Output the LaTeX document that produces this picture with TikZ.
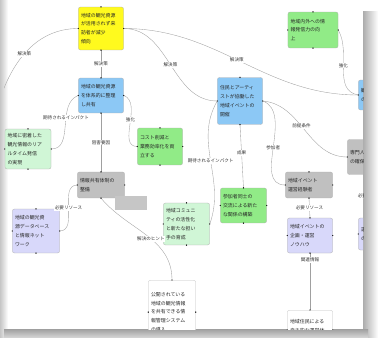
\documentclass[tikz,border=0pt]{standalone}
\usepackage{fontspec}
\newfontfamily\jp{Noto Sans CJK JP}

\definecolor{kiiro}{RGB}{255,250,30}
\definecolor{ao}{RGB}{140,200,245}
\definecolor{midori}{RGB}{145,235,135}
\definecolor{usumidori}{RGB}{208,246,214}
\definecolor{hai}{RGB}{192,192,192}
\definecolor{fuji}{RGB}{216,216,250}
\definecolor{sen}{RGB}{160,160,160}

\tikzset{kado/.style = {draw = gray!65, rounded corners = 3pt, align = left,
                        font = \jp\fontsize{7}{12.5}\selectfont, text = black!85,
                        inner sep = 0.13cm, text width = #1},
         kado/.default = 2cm,
         ran/.style = {font = \jp\fontsize{6.5}{7}\selectfont, fill = white,
                       inner sep = 1pt, text = black!80},
         sen/.style = {draw = sen, line width = 0.5pt}
        }

\newcommand{\yotsuten}[1]{\foreach \a in {north,south,east,west} \fill (#1.\a) circle[radius=1pt];}

\begin{document}
\begin{tikzpicture}[x=0.05cm,y=-0.05cm]
\useasboundingbox (0,0) rectangle (378,338);
\fill[white] (0,0) rectangle (378,338);
% page shadows
\shade[left color = gray!45, right color = white] (0,0) rectangle (8,338);
\shade[left color = gray!65, right color = white] (363,12) rectangle (378,338);
\shade[top color = gray!75, bottom color = gray!30] (4,329) rectangle (368,338);

\begin{scope}
\clip (4,0) rectangle (363,329);
% nodes
\node[kado, fill = kiiro, minimum height = 2.15cm] (yel) at (101,28.5)
  {地域の観光資源\\が活用されず来\\訪者が減少\\傾向};
\node[kado = 2.25cm, fill = midori, minimum height = 1.8cm] (grnTop) at (313,30)
  {地域内外への情\\報発信力の向\\上};
\node[kado, fill = ao, minimum height = 1.75cm] (blu1) at (101,95.5)
  {地域の観光資源\\を体系的に整理\\し共有};
\node[kado, fill = ao, minimum height = 2.35cm] (blu2) at (240,101)
  {住民とアーティ\\ストが協働した\\地域イベントの\\開催};
\node[kado = 1.7cm, fill = ao, minimum height = 1.5cm] (blu3) at (378,95)
  {観光案内\\の拡充};
\node[kado = 2.05cm, fill = usumidori, minimum height = 2cm] (mint1) at (28,149)
  {地域に密着した\\観光情報のリア\\ルタイム発信\\の実現};
\node[kado, fill = midori, minimum height = 1.85cm] (grn2) at (160,146.5)
  {コスト削減と\\業務効率化を両\\立する};
\node[kado = 1.5cm, fill = hai, minimum height = 1.75cm] (grayR) at (365,157)
  {専門人材\\の確保};
\node[kado = 2.1cm, fill = hai, minimum height = 1.3cm] (gray1) at (101,185)
  {情報共有体制の\\整備};
\node[fill = gray!45, minimum width = 1.6cm, minimum height = 0.7cm, inner sep = 0] (kage) at (131,203) {};
\node[kado = 2.05cm, fill = midori, minimum height = 1.75cm] (grn3) at (243.5,205.5)
  {参加者同士の\\交流による新た\\な関係の構築};
\node[kado = 2.05cm, fill = usumidori, minimum height = 2.1cm] (mint2) at (186.5,224)
  {地域コミュニ\\ティの活性化\\と新たな担い\\手の育成};
\node[kado = 2.1cm, fill = hai, minimum height = 1.3cm] (gray2) at (309,185)
  {地域イベント\\運営経験者};
\node[kado = 2.1cm, fill = fuji, minimum height = 2.2cm] (lav1) at (36,231)
  {地域の観光資\\源データベース\\と情報ネット\\ワーク};
\node[kado, fill = fuji, minimum height = 1.75cm] (lav2) at (310,235.5)
  {地域イベントの\\企画・運営\\ノウハウ};
\node[kado = 1.7cm, fill = fuji, minimum height = 1.6cm] (lav3) at (378,234)
  {運営資金\\の調達};
\node[kado = 2.1cm, draw = gray!50, fill = white, minimum height = 3.2cm, anchor = north] (wht1) at (172,280)
  {公開されている\\地域の観光情報\\を共有できる情\\報管理システム\\の導入};
\node[kado, draw = gray!50, fill = white, minimum height = 2cm, anchor = north] (wht2) at (310,310)
  {地域住民による\\自主的な運営体\\制の構築};
\coordinate (hidariSoto) at (-4,112);

% connectors
\draw[sen] (yel.west) to[out=180,in=75] node[ran, pos=0.5] {解決策} (hidariSoto);
\draw[sen] (yel.south) -- node[ran] {解決策} (blu1.north);
\draw[sen] (yel.east) to[out=0,in=180] node[ran] {解決策} (blu2.west);
\draw[sen] (yel.east) to[out=0,in=180] node[ran, pos=0.48] {解決策} (blu3.west);
\draw[sen] (grnTop.east) to[out=-60,in=170] node[ran, pos=0.45] {強化} (blu3.west);
\draw[sen] (blu1.west) to[out=200,in=0] node[ran, pos=0.4] {期待されるインパクト} (mint1.east);
\draw[sen] (blu1.east) to[out=-20,in=180] node[ran, pos=0.45] {強化} (grn2.west);
\draw[sen] (blu1.south) -- node[ran] {阻害要因} (gray1.north);
\draw[sen] (gray1.west) to[out=180,in=0] node[ran] {必要リソース} (lav1.east);
\draw[sen] (gray1.south) to[out=-50,in=90] node[ran, pos=0.55] {解決のヒント} (wht1.north);
\draw[sen] (blu2.south) -- node[ran, pos=0.45] {成果} (grn3.north);
\draw[sen] (blu2.west) to[out=-120,in=70] node[ran, pos=0.5] {期待されるインパクト} (mint2.east);
\draw[sen] (blu2.east) to[out=-20,in=180] node[ran, pos=0.5] {参加者} (gray2.west);
\draw[sen] (blu2.east) to[out=-5,in=180] node[ran, pos=0.45] {前提条件} (grayR.west);
\draw[sen] (gray2.south) -- node[ran] {必要リソース} (lav2.north);
\draw[sen] (grayR.south) to[out=-90,in=90] node[ran] {必要リソース} (lav3.north);
\draw[sen] (lav2.south) -- node[ran, pos=0.12] {関連情報} (wht2.north);

% anchor dots
\foreach \n in {yel,grnTop,blu1,blu2,blu3,mint1,grn2,grayR,gray1,grn3,mint2,gray2,lav1,lav2,lav3,wht1,wht2}
  {\yotsuten{\n}}
\end{scope}
\end{tikzpicture}
\end{document}
